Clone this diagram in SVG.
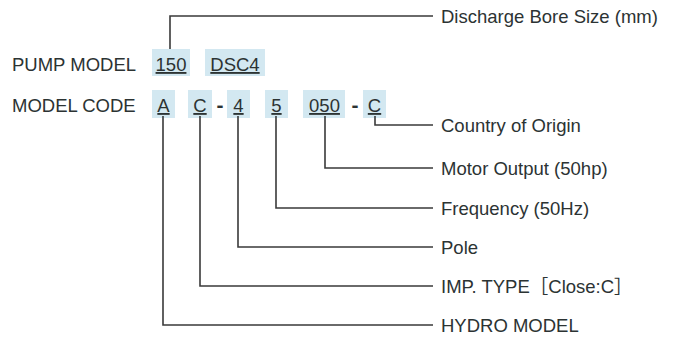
<svg xmlns="http://www.w3.org/2000/svg" width="678" height="339" viewBox="0 0 678 339">
<style>
text{font-family:"Liberation Sans","Noto Sans CJK JP",Arial,sans-serif;font-size:18.5px;fill:#2c3333}
.c{text-anchor:middle;text-decoration:underline}
.box{fill:#d3e8f1}
.ln{fill:none;stroke:#3a3a3a;stroke-width:1.6}
.d{font-weight:bold;font-size:21px;text-anchor:middle}
</style>
<rect width="678" height="339" fill="#ffffff"/>
<g id="pump-model">
<text x="12" y="71">PUMP MODEL</text>
<g id="bore"><rect class="box" x="152" y="49" width="38" height="27"/><text class="c" x="171" y="71">150</text></g>
<g id="series"><rect class="box" x="205" y="49" width="60" height="27"/><text class="c" x="235" y="71">DSC4</text></g>
</g>
<g id="model-code">
<text x="12" y="112">MODEL CODE</text>
<g id="hydro"><rect class="box" x="152" y="90" width="23" height="28"/><text class="c" x="163.5" y="112">A</text></g>
<g id="imp"><rect class="box" x="188" y="90" width="24" height="28"/><text class="c" x="200" y="112">C</text></g>
<text class="d" x="220" y="112">-</text>
<g id="pole"><rect class="box" x="227" y="90" width="23" height="28"/><text class="c" x="238.5" y="112">4</text></g>
<g id="freq"><rect class="box" x="265" y="90" width="23" height="28"/><text class="c" x="276.5" y="112">5</text></g>
<g id="motor"><rect class="box" x="303" y="90" width="42" height="28"/><text class="c" x="324.5" y="112">050</text></g>
<text class="d" x="355" y="112">-</text>
<g id="origin"><rect class="box" x="363" y="90" width="23" height="28"/><text class="c" x="374.5" y="112">C</text></g>
</g>
<g id="connectors">
<polyline class="ln" points="170,49 170,16 433,16"/>
<polyline class="ln" points="375,116 375,125 433,125"/>
<polyline class="ln" points="325,116 325,168 433,168"/>
<polyline class="ln" points="276,116 276,208 433,208"/>
<polyline class="ln" points="238,116 238,247 433,247"/>
<polyline class="ln" points="200,116 200,286 433,286"/>
<polyline class="ln" points="163,116 163,325 433,325"/>
</g>
<g id="labels">
<text x="441" y="23">Discharge Bore Size (mm)</text>
<text x="441" y="132">Country of Origin</text>
<text x="441" y="175">Motor Output (50hp)</text>
<text x="441" y="215">Frequency (50Hz)</text>
<text x="441" y="254">Pole</text>
<text x="441" y="293">IMP. TYPE［Close:C］</text>
<text x="441" y="332">HYDRO MODEL</text>
</g>
</svg>
